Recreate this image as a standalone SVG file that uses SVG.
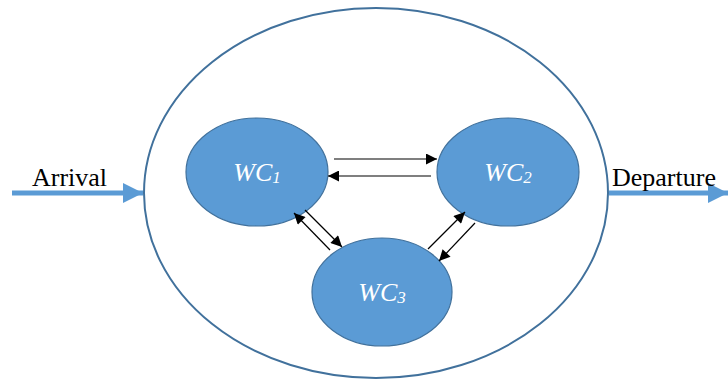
<svg xmlns="http://www.w3.org/2000/svg" width="728" height="381" viewBox="0 0 728 381">
<defs>
<style>
.outer{fill:none;stroke:#41719c;stroke-width:2}
.node{fill:#5b9bd5;stroke:#41719c;stroke-width:1.2}
.lbl{font-style:italic;font-size:26px;fill:#fff;text-anchor:middle}
.sub{font-size:17px}
.flow{stroke:#5b9bd5;stroke-width:5;fill:none}
.conn{stroke:#000;stroke-width:1.2;fill:none}
.side{font-size:26px;fill:#000}
</style>
<marker id="ah" viewBox="0 0 10 10" refX="10" refY="5" markerWidth="13" markerHeight="11" markerUnits="userSpaceOnUse" orient="auto"><path d="M0,0 L10,5 L0,10 z" fill="#000"/></marker>
<marker id="bh" viewBox="0 0 10 10" refX="10" refY="5" markerWidth="4" markerHeight="4" orient="auto"><path d="M0,0 L10,5 L0,10 z" fill="#5b9bd5"/></marker>
</defs>
<g id="system"><ellipse class="outer" cx="376" cy="193" rx="232" ry="185"/></g>
<g id="arrival"><line class="flow" x1="12" y1="193" x2="143" y2="193" marker-end="url(#bh)"/><text class="side" font-family="'Liberation Serif','Times New Roman',serif" x="32" y="186">Arrival</text></g>
<g id="departure"><line class="flow" x1="609" y1="193" x2="728" y2="193" marker-end="url(#bh)"/><text class="side" font-family="'Liberation Serif','Times New Roman',serif" x="612" y="186">Departure</text></g>
<g id="wc1"><ellipse class="node" cx="257" cy="172" rx="71" ry="54"/><text class="lbl" font-family="'Liberation Serif','Times New Roman',serif" x="257" y="181">WC<tspan class="sub" dy="2">1</tspan></text></g>
<g id="wc2"><ellipse class="node" cx="508" cy="172" rx="71" ry="54"/><text class="lbl" font-family="'Liberation Serif','Times New Roman',serif" x="508" y="181">WC<tspan class="sub" dy="2">2</tspan></text></g>
<g id="wc3"><ellipse class="node" cx="382" cy="292" rx="70" ry="54"/><text class="lbl" font-family="'Liberation Serif','Times New Roman',serif" x="382" y="301">WC<tspan class="sub" dy="2">3</tspan></text></g>
<g id="connectors">
<line class="conn" x1="334" y1="159" x2="437" y2="159" marker-end="url(#ah)"/>
<line class="conn" x1="431" y1="176" x2="328" y2="176" marker-end="url(#ah)"/>
<line class="conn" x1="330" y1="250" x2="294" y2="213" marker-end="url(#ah)"/>
<line class="conn" x1="305" y1="210" x2="342" y2="247" marker-end="url(#ah)"/>
<line class="conn" x1="428" y1="249" x2="465" y2="212" marker-end="url(#ah)"/>
<line class="conn" x1="475" y1="223" x2="439" y2="261" marker-end="url(#ah)"/>
</g>
</svg>
